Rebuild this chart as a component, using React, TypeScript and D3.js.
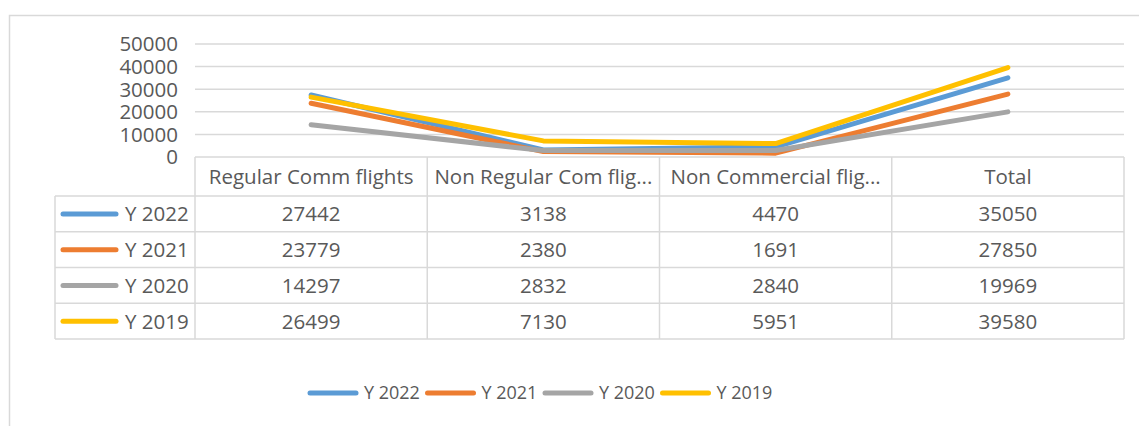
import React, { useEffect, useRef } from 'react';
import * as d3 from 'd3';

// chart data
const categories = ['Regular Comm flights', 'Non Regular Com flights', 'Non Commercial flights', 'Total'];
const seriesNames = ['Y 2022', 'Y 2021', 'Y 2020', 'Y 2019'];
const y2022 = [27442, 3138, 4470, 35050];
const y2021 = [23779, 2380, 1691, 27850];
const y2020 = [14297, 2832, 2840, 19969];
const y2019 = [26499, 7130, 5951, 39580];
const yTicks = [0, 10000, 20000, 30000, 40000, 50000];
const colors = ['#5B9BD5', '#ED7D31', '#A5A5A5', '#FFC000'];

const W = 1139;
const H = 426;
const FONT = '"Open Sans", sans-serif';
const TEXT = '#595959';
const GRID = '#d9d9d9';

const App = () => {
  const svgRef = useRef(null);

  useEffect(() => {
    const series = [y2022, y2021, y2020, y2019].map((values, i) => ({ name: seriesNames[i], values, color: colors[i] }));

    const svg = d3.select(svgRef.current);
    svg.selectAll('*').remove();

    // frame of the chart area
    svg.append('rect')
      .attr('x', 9.5).attr('y', 15.5)
      .attr('width', W).attr('height', H)
      .attr('fill', 'white')
      .attr('stroke', GRID).attr('stroke-width', 1.5);

    const x = d3.scaleBand().domain(categories).range([195, 1124]);
    const y = d3.scaleLinear().domain([0, 50000]).range([157, 44]);

    // gridlines
    svg.append('g').selectAll('line')
      .data(yTicks.slice(1))
      .join('line')
      .attr('x1', x.range()[0]).attr('x2', x.range()[1])
      .attr('y1', (d) => y(d)).attr('y2', (d) => y(d))
      .attr('stroke', GRID).attr('stroke-width', 1.5);

    // y axis labels
    svg.append('g').selectAll('text')
      .data(yTicks)
      .join('text')
      .attr('x', 178)
      .attr('y', (d) => y(d))
      .attr('dy', '0.36em')
      .attr('text-anchor', 'end')
      .attr('font-family', FONT).attr('font-size', 20.5).attr('fill', TEXT)
      .text((d) => d);

    // data table
    const rows = d3.scaleBand().domain(seriesNames).range([196, 339]);
    const headTop = y(0);
    const legendLeft = 55;
    const table = svg.append('g').attr('fill', 'none').attr('stroke', GRID).attr('stroke-width', 1.5);
    // header row
    table.append('line').attr('x1', x.range()[0]).attr('x2', x.range()[1]).attr('y1', headTop).attr('y2', headTop);
    // row lines
    seriesNames.forEach((s) => {
      table.append('line').attr('x1', legendLeft).attr('x2', x.range()[1]).attr('y1', rows(s)).attr('y2', rows(s));
    });
    table.append('line').attr('x1', legendLeft).attr('x2', x.range()[1]).attr('y1', rows.range()[1]).attr('y2', rows.range()[1]);
    // column lines
    categories.forEach((c) => {
      table.append('line').attr('x1', x(c)).attr('x2', x(c)).attr('y1', headTop).attr('y2', rows.range()[1]);
    });
    table.append('line').attr('x1', x.range()[1]).attr('x2', x.range()[1]).attr('y1', headTop).attr('y2', rows.range()[1]);
    table.append('line').attr('x1', legendLeft).attr('x2', legendLeft).attr('y1', rows.range()[0]).attr('y2', rows.range()[1]);

    // header labels, cut with an ellipsis like Excel does
    const headY = (headTop + rows.range()[0]) / 2;
    svg.append('g').selectAll('text')
      .data(categories)
      .join('text')
      .attr('x', (d) => x(d) + x.bandwidth() / 2)
      .attr('y', headY)
      .attr('dy', '0.36em')
      .attr('text-anchor', 'middle')
      .attr('font-family', FONT).attr('font-size', 20.5).attr('fill', TEXT)
      .text((d) => d)
      .each(function (d) {
        const node = this;
        const maxW = x.bandwidth() - 10;
        if (node.getComputedTextLength() <= maxW) return;
        let s = d;
        while (s.length > 1) {
          s = s.slice(0, -1);
          node.textContent = s.trimEnd() + '...';
          if (node.getComputedTextLength() <= maxW) break;
        }
      });

    // table body
    series.forEach((s) => {
      const cy = rows(s.name) + rows.bandwidth() / 2;
      svg.append('line')
        .attr('x1', 63).attr('x2', 116)
        .attr('y1', cy).attr('y2', cy)
        .attr('stroke', s.color).attr('stroke-width', 5).attr('stroke-linecap', 'round');
      svg.append('text')
        .attr('x', 125).attr('y', cy).attr('dy', '0.36em')
        .attr('font-family', FONT).attr('font-size', 20.5).attr('fill', TEXT)
        .text(s.name);
      svg.append('g').selectAll('text')
        .data(s.values)
        .join('text')
        .attr('x', (d, i) => x(categories[i]) + x.bandwidth() / 2)
        .attr('y', cy).attr('dy', '0.36em')
        .attr('text-anchor', 'middle')
        .attr('font-family', FONT).attr('font-size', 20.5).attr('fill', TEXT)
        .text((d) => d);
    });

    // the lines
    const line = d3.line()
      .x((d, i) => x(categories[i]) + x.bandwidth() / 2)
      .y((d) => y(d));

    svg.append('g').selectAll('path')
      .data(series)
      .join('path')
      .attr('fill', 'none')
      .attr('stroke', (d) => d.color)
      .attr('stroke-width', 5)
      .attr('stroke-linecap', 'round')
      .attr('stroke-linejoin', 'round')
      .attr('d', (d) => line(d.values));

    // bottom legend
    const legend = svg.append('g').attr('transform', 'translate(310, 393)');
    series.forEach((s, i) => {
      const g = legend.append('g').attr('transform', `translate(${i * 117.5}, 0)`);
      g.append('line')
        .attr('x1', 0).attr('x2', 46)
        .attr('stroke', s.color).attr('stroke-width', 5).attr('stroke-linecap', 'round');
      g.append('text')
        .attr('x', 54).attr('dy', '0.36em')
        .attr('font-family', FONT).attr('font-size', 18).attr('fill', TEXT)
        .text(s.name);
    });
  }, []);

  return (
    <svg ref={svgRef} width={W} height={H} style={{ position: 'absolute', left: 0, top: 0, background: 'white' }}></svg>
  );
};

export default App;
